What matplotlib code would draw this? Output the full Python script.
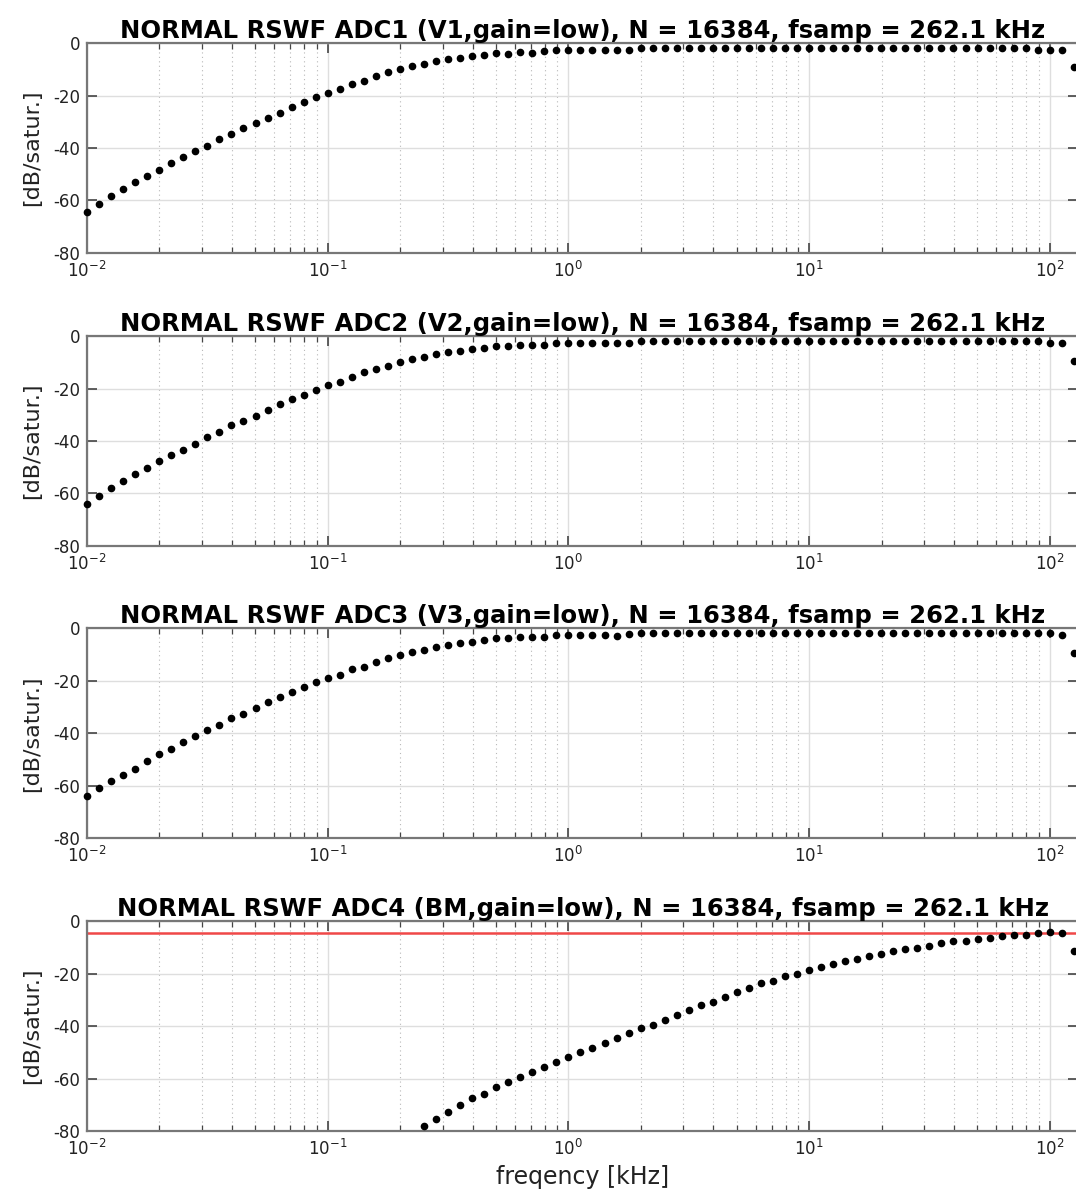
import matplotlib
matplotlib.use("Agg")
import matplotlib.pyplot as plt
from matplotlib.ticker import LogLocator, FixedLocator, NullLocator

plt.rcParams["font.family"] = ["DejaVu Sans"]
plt.rcParams["axes.unicode_minus"] = False

# frequency bins [kHz], 20 per decade up to fsamp/2
FREQ_KHZ = [
    0.01, 0.01122, 0.01259, 0.01413, 0.01585, 0.01778, 0.01995, 0.02239, 0.02512, 0.02818,
    0.03162, 0.03548, 0.03981, 0.04467, 0.05012, 0.05623, 0.06310, 0.07079, 0.07943, 0.08913,
    0.1, 0.1122, 0.1259, 0.1413, 0.1585, 0.1778, 0.1995, 0.2239, 0.2512, 0.2818,
    0.3162, 0.3548, 0.3981, 0.4467, 0.5012, 0.5623, 0.6310, 0.7079, 0.7943, 0.8913,
    1.0, 1.122, 1.259, 1.413, 1.585, 1.778, 1.995, 2.239, 2.512, 2.818,
    3.162, 3.548, 3.981, 4.467, 5.012, 5.623, 6.310, 7.079, 7.943, 8.913,
    10.0, 11.22, 12.59, 14.13, 15.85, 17.78, 19.95, 22.39, 25.12, 28.18,
    31.62, 35.48, 39.81, 44.67, 50.12, 56.23, 63.10, 70.79, 79.43, 89.13,
    100.0, 112.2, 125.9,
]

ADC1_DB = [
    -64.3, -61.3, -58.2, -55.7, -53.2, -50.7, -48.4, -45.8, -43.3, -41.0,
    -39.1, -36.7, -34.8, -32.3, -30.5, -28.6, -26.7, -24.3, -22.4, -20.6,
    -19.2, -17.5, -15.6, -14.4, -12.4, -11.2, -10.0, -8.8, -8.1, -6.9,
    -6.2, -5.6, -4.8, -4.5, -3.8, -4.1, -3.4, -3.6, -3.2, -2.6,
    -2.6, -2.6, -2.6, -2.6, -2.6, -2.6, -1.9, -1.9, -1.9, -1.9,
    -1.9, -1.9, -1.9, -1.9, -1.9, -1.9, -1.9, -1.9, -1.9, -1.9,
    -1.9, -1.9, -1.9, -1.9, -1.9, -1.9, -1.9, -1.9, -1.9, -1.9,
    -1.9, -1.9, -1.9, -1.9, -1.9, -1.9, -1.9, -1.9, -1.9, -2.5,
    -2.5, -2.5, -9.3,
]

ADC2_DB = [
    -63.9, -61.0, -58.1, -55.2, -52.8, -50.3, -47.7, -45.4, -43.5, -41.0,
    -38.6, -36.6, -34.0, -32.4, -30.3, -28.0, -26.0, -24.1, -22.3, -20.4,
    -18.8, -17.5, -15.6, -13.7, -12.4, -11.2, -9.9, -8.9, -8.0, -7.0,
    -6.1, -5.5, -4.9, -4.4, -3.9, -3.9, -3.3, -3.3, -3.3, -2.7,
    -2.7, -2.7, -2.7, -2.7, -2.7, -2.7, -2.0, -2.0, -2.0, -2.0,
    -2.0, -2.0, -2.0, -2.0, -2.0, -2.0, -2.0, -2.0, -2.0, -2.0,
    -2.0, -2.0, -2.0, -2.0, -2.0, -2.0, -2.0, -2.0, -2.0, -2.0,
    -2.0, -2.0, -2.0, -2.0, -2.0, -2.0, -2.0, -2.0, -2.0, -2.0,
    -2.7, -2.7, -9.4,
]

ADC3_DB = [
    -64.1, -61.0, -58.4, -55.9, -53.6, -50.5, -47.9, -46.1, -43.5, -41.0,
    -38.7, -36.8, -34.3, -32.6, -30.5, -28.2, -26.3, -24.4, -22.5, -20.6,
    -18.8, -17.8, -15.6, -14.6, -12.7, -11.4, -10.2, -8.9, -8.3, -7.2,
    -6.3, -5.6, -5.0, -4.3, -3.8, -3.8, -3.2, -3.2, -3.2, -2.5,
    -2.5, -2.5, -2.5, -2.5, -2.8, -2.2, -1.9, -1.9, -1.9, -1.9,
    -1.9, -1.9, -1.9, -1.9, -1.9, -1.9, -1.9, -1.9, -1.9, -1.9,
    -1.9, -1.9, -1.9, -1.9, -1.9, -1.9, -1.9, -1.9, -1.9, -1.9,
    -1.9, -1.9, -1.9, -1.9, -1.9, -1.9, -1.9, -1.9, -1.9, -1.9,
    -1.9, -2.5, -9.3,
]

# ADC4 only visible from bin 28 (0.25 kHz) up
ADC4_FIRST_BIN = 28
ADC4_DB = [
    -78.1, -75.5, -72.6, -70.0, -67.6, -65.7, -63.2, -61.3, -59.3, -57.4,
    -55.7, -53.7, -51.8, -49.9, -48.2, -46.3, -44.5, -42.6, -40.6, -39.4,
    -37.6, -35.6, -33.7, -31.9, -30.6, -28.7, -26.8, -25.5, -23.6, -22.6,
    -21.0, -20.0, -18.7, -17.4, -16.2, -15.1, -14.2, -13.2, -12.6, -11.3,
    -10.6, -10.0, -9.4, -8.2, -7.4, -7.4, -6.8, -6.2, -5.6, -5.0,
    -5.0, -4.4, -4.2, -4.4, -11.3,
]
ADC4_LIMIT_DB = -4.6

TITLES = [
    "NORMAL RSWF ADC1 (V1,gain=low), N = 16384, fsamp = 262.1 kHz",
    "NORMAL RSWF ADC2 (V2,gain=low), N = 16384, fsamp = 262.1 kHz",
    "NORMAL RSWF ADC3 (V3,gain=low), N = 16384, fsamp = 262.1 kHz",
    "NORMAL RSWF ADC4 (BM,gain=low), N = 16384, fsamp = 262.1 kHz",
]
Y_TICKS = [-80, -60, -40, -20, 0]
F_MAX = 131.07  # fsamp / 2

fig = plt.figure(figsize=(10.76, 12.01), dpi=100)
left, width, height = 0.0809, 0.921, 0.1745
bottoms = [0.7896, 0.5456, 0.3022, 0.0583]

series = [
    (FREQ_KHZ, ADC1_DB),
    (FREQ_KHZ, ADC2_DB),
    (FREQ_KHZ, ADC3_DB),
    (FREQ_KHZ[ADC4_FIRST_BIN:], ADC4_DB),
]

for i, (b, (f, db)) in enumerate(zip(bottoms, series)):
    ax = fig.add_axes([left, b, width, height])
    ax.set_xscale("log")
    ax.set_xlim(0.01, F_MAX)
    ax.set_ylim(-80, 0)

    ax.grid(True, which="major", color="#dedede", lw=1.0, ls="-")
    ax.grid(True, which="minor", axis="x", color="#b8b8b8", lw=0.8, ls=(0, (1, 3)))
    ax.set_axisbelow(True)

    if i == 3:
        ax.axhline(ADC4_LIMIT_DB, color="#f04848", lw=1.8, zorder=2)
    ax.plot(f, db, ls="none", marker="o", ms=4.5, color="black", clip_on=False, zorder=3)

    ax.xaxis.set_major_locator(LogLocator(base=10, numticks=10))
    ax.xaxis.set_minor_locator(LogLocator(base=10, subs=range(2, 10), numticks=20))
    ax.yaxis.set_major_locator(FixedLocator(Y_TICKS))
    ax.yaxis.set_minor_locator(NullLocator())

    ax.tick_params(which="both", direction="in", top=True, right=True,
                   colors="#444444", labelcolor="#222222", labelsize=12)
    ax.tick_params(which="major", length=7, width=1.2, pad=5)
    ax.tick_params(axis="x", which="major", pad=6)
    ax.tick_params(which="minor", length=4, width=0.9)
    for sp in ax.spines.values():
        sp.set_color("#777777")
        sp.set_linewidth(1.6)

    ax.set_ylabel("[dB/satur.]", fontsize=16, color="#222222", labelpad=8)
    ax.set_title(TITLES[i], fontsize=17.5, fontweight="bold", pad=3)

    if i == 3:
        ax.set_xlabel("freqency [kHz]", fontsize=17, color="#222222", labelpad=4)

fig.savefig("out.png", dpi=100)
